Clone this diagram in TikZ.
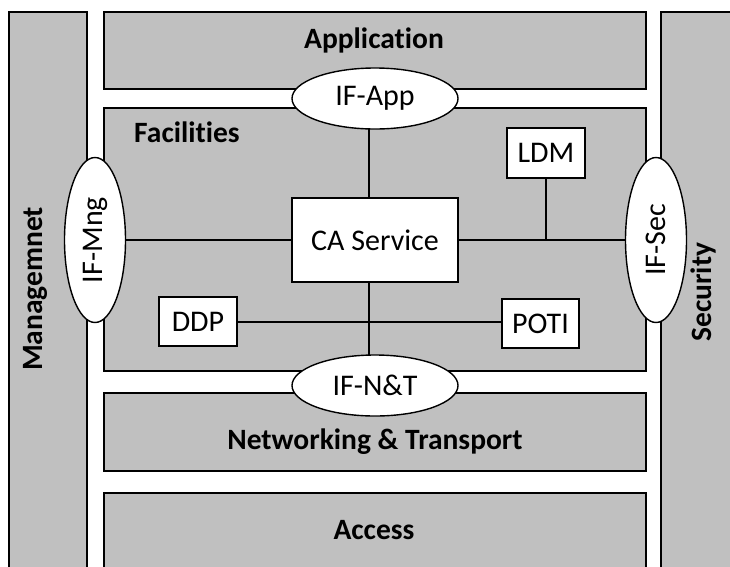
\documentclass[tikz,border=0pt]{standalone}
\usepackage{fontspec}
\setmainfont{Carlito}[Ligatures={NoCommon,NoRare}]
\usetikzlibrary{shapes.geometric}
\definecolor{layergray}{RGB}{192,192,192}
\tikzset{
  layer/.style={draw=black, line width=1.6pt, fill=layergray},
  iface/.style={ellipse, draw=black, line width=1.4pt, fill=white, inner sep=0pt, font=\fontsize{30}{34}\selectfont},
  module/.style={rectangle, draw=black, line width=1.4pt, fill=white, inner sep=0pt, font=\fontsize{30}{34}\selectfont},
  conn/.style={draw=black, line width=1.4pt},
  ltitle/.style={font=\bfseries\fontsize{29.5}{34}\selectfont, inner sep=0pt}
}
\begin{document}
\begin{tikzpicture}[x=1pt,y=-1pt]
\useasboundingbox (0,0) rectangle (730,566);
\clip (0,0) rectangle (730,566);
% layers
\draw[layer] (9,12) rectangle (87,600);
\draw[layer] (661,12) rectangle (760,600);
\draw[layer] (104,12) rectangle (646,89);
\draw[layer] (104,108) rectangle (646,371);
\draw[layer] (104,393) rectangle (646,471);
\draw[layer] (104,493) rectangle (646,600);
% titles
\node[ltitle] (tapp) at (374,40) {Application};
\node[ltitle, anchor=west] (tfac) at (134,132) {Facilities};
\node[ltitle] (tnet) at (375,442) {Networking \& Transport};
\node[ltitle] (tacc) at (374,530) {Access};
\node[ltitle, rotate=90] (tmng) at (35,289) {Managemnet};
\node[ltitle, rotate=90] (tsec) at (703,292) {Security};
% modules
\node[module, minimum width=166pt, minimum height=84pt] (ca) at (375,240) {CA Service};
\node[module, minimum width=78pt, minimum height=50pt] (ldm) at (546,153) {LDM};
\node[module, minimum width=78pt, minimum height=49pt] (ddp) at (198,321.5) {DDP};
\node[module, minimum width=77pt, minimum height=49pt] (poti) at (540.5,323.5) {POTI};
\coordinate (junc) at (546,240);
% connectors (drawn before interfaces)
\draw[conn] (ddp.east |- 0,322) -- (poti.west |- 0,322);
\draw[conn] (ldm.south) -- (junc);
\draw[conn] (369,98) -- (369,198);
\draw[conn] (369,282) -- (369,386);
\draw[conn] (95,240) -- (ca.west);
\draw[conn] (ca.east) -- (656,240);
% interfaces
\node[iface, minimum width=166pt, minimum height=61pt] (ifapp) at (375,98.5) {IF-App};
\node[iface, minimum width=166pt, minimum height=61pt] (ifnt) at (375,385.5) {IF-N\&T};
\node[iface, minimum width=165pt, minimum height=61pt, rotate=90] (ifmng) at (95,240) {IF-Mng};
\node[iface, minimum width=165pt, minimum height=61pt, rotate=90] (ifsec) at (656,240) {IF-Sec};
\end{tikzpicture}
\end{document}
